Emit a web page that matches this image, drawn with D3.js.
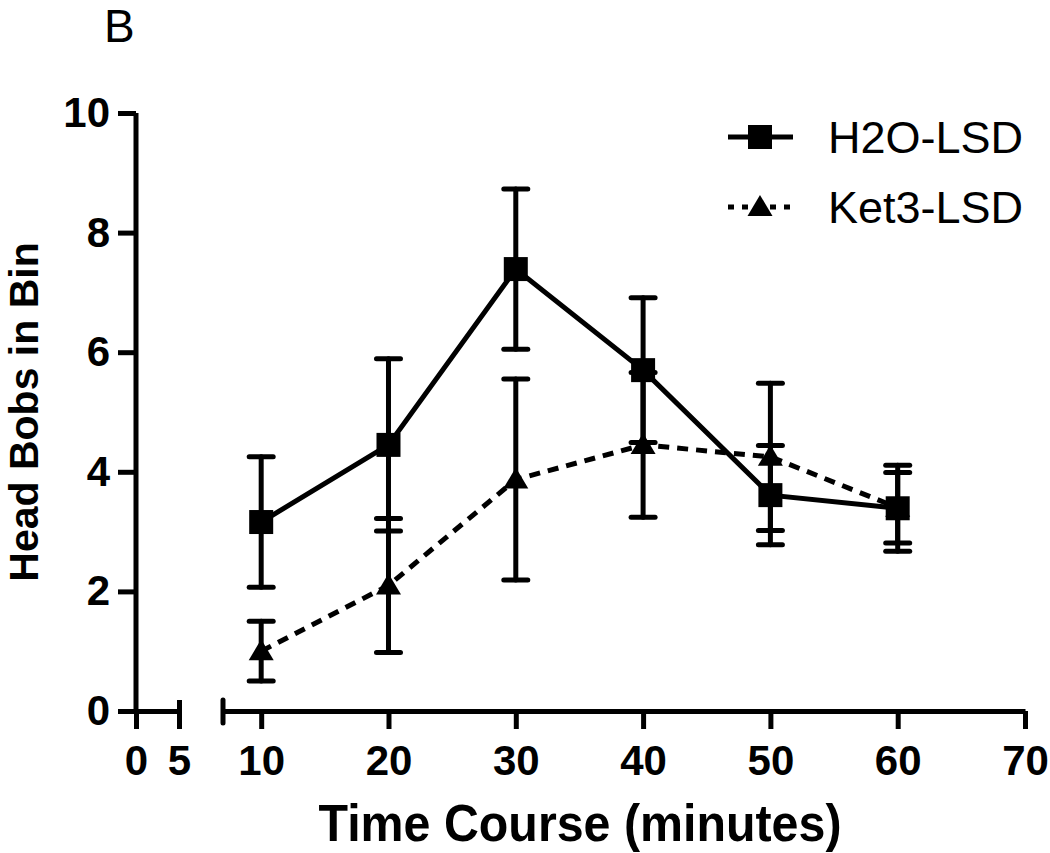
<!DOCTYPE html>
<html><head><meta charset="utf-8">
<script src="https://cdn.jsdelivr.net/npm/d3@7"></script>
<style>body{margin:0;background:#fff}svg{display:block}text{font-family:Arial,"Liberation Sans",sans-serif}</style>
</head><body><svg id="c" width="1050" height="853"></svg>
<script>
const times = [10, 20, 30, 40, 50, 60];
const h2oMean = [3.16, 4.45, 7.39, 5.70, 3.61, 3.39];
const h2oSem  = [1.09, 1.44, 1.34, 1.21, 0.83, 0.72];
const ketMean = [1.00, 2.10, 3.87, 4.45, 4.25, 3.40];
const ketSem  = [0.50, 1.12, 1.68, 1.21, 1.23, 0.59];
const yTicks = [0, 2, 4, 6, 8, 10];
const xTicks1 = [0, 5];
const xTicks2 = [10, 20, 30, 40, 50, 60, 70];
const seriesNames = ["H2O-LSD", "Ket3-LSD"];

const svg = d3.select("#c");
const y = d3.scaleLinear().domain([0, 10]).range([711, 113]);
const x1 = d3.scaleLinear().domain([0, 5]).range([136, 179]);
const x2 = d3.scaleLinear().domain([7, 70]).range([223, 1025]);
const SW = 5;
const fmt = d3.format("d");

// Y axis
const yAx = svg.append("g").attr("transform", "translate(136,0)")
  .call(d3.axisLeft(y).tickValues(yTicks).tickFormat(fmt).tickSize(18).tickPadding(8).tickSizeOuter(0));
yAx.select(".domain").attr("stroke-width", SW).attr("d", "M0," + y(10) + "V" + (y(0)+1.5));
yAx.selectAll(".tick line").attr("stroke-width", SW);
yAx.selectAll("text").attr("font-size", 42).attr("font-weight", "bold").attr("fill", "#000").attr("dy", "0.32em");

// X axis segment 1
const xa1 = svg.append("g").attr("transform", "translate(0,711)")
  .call(d3.axisBottom(x1).tickValues(xTicks1).tickFormat(fmt).tickSize(18).tickPadding(16).tickSizeOuter(0));
xa1.select(".domain").attr("stroke-width", SW);
xa1.selectAll(".tick line").attr("stroke-width", SW).attr("y1", -11);
xa1.selectAll(".tick").filter(d => d === 0).select("line").attr("y1", 0);
xa1.selectAll("text").attr("font-size", 42).attr("font-weight", "bold").attr("fill", "#000");

// X axis segment 2
const xa2 = svg.append("g").attr("transform", "translate(0,711)")
  .call(d3.axisBottom(x2).tickValues(xTicks2).tickFormat(fmt).tickSize(18).tickPadding(16).tickSizeOuter(0));
xa2.select(".domain").attr("stroke-width", SW);
xa2.selectAll(".tick line").attr("stroke-width", SW);
xa2.selectAll("text").attr("font-size", 42).attr("font-weight", "bold").attr("fill", "#000");
xa2.append("line").attr("x1", x2(7)).attr("x2", x2(7)).attr("y1", -11).attr("y2", 12)
  .attr("stroke", "#000").attr("stroke-width", SW).attr("stroke-linecap", "round");

// Series
const plot = svg.append("g");
const line = d3.line().x(d => x2(d[0])).y(d => y(d[1]));
const cap = 12;

function drawSeries(means, sems, dashed, marker) {
  const pts = times.map((t, i) => [t, means[i], sems[i]]);
  const eb = plot.append("g").attr("stroke", "#000").attr("stroke-width", SW).attr("stroke-linecap", "round");
  pts.forEach(p => {
    eb.append("line").attr("x1", x2(p[0])).attr("x2", x2(p[0])).attr("y1", y(p[1] - p[2])).attr("y2", y(p[1] + p[2]));
    [p[1] - p[2], p[1] + p[2]].forEach(v => {
      eb.append("line").attr("x1", x2(p[0]) - cap).attr("x2", x2(p[0]) + cap).attr("y1", y(v)).attr("y2", y(v));
    });
  });
  plot.append("path").datum(pts).attr("d", line).attr("fill", "none").attr("stroke", "#000")
    .attr("stroke-width", SW).attr("stroke-dasharray", dashed ? "11,8" : null);
  plot.selectAll(null).data(pts).enter().append("path")
    .attr("transform", d => `translate(${x2(d[0])},${y(d[1])})`)
    .attr("d", marker).attr("fill", "#000");
}
const sq = "M-12,-12H12V12H-12Z";
const tri = "M0,-12L12.5,9H-12.5Z";
drawSeries(h2oMean, h2oSem, false, sq);
drawSeries(ketMean, ketSem, true, tri);

// Legend
const leg = svg.append("g");
seriesNames.forEach((n, i) => {
  const yy = 137 + i * 70;
  leg.append("line").attr("x1", 728).attr("x2", 793).attr("y1", yy).attr("y2", yy)
    .attr("stroke", "#000").attr("stroke-width", SW).attr("stroke-dasharray", i ? "6,8" : null);
  leg.append("path").attr("transform", `translate(760,${yy})`).attr("d", i ? tri : sq).attr("fill", "#000");
  leg.append("text").attr("x", 828).attr("y", yy).attr("dy", "0.36em").attr("font-size", 45).text(n);
});

// Titles
svg.append("text").attr("x", 104).attr("y", 42).attr("font-size", 46).text("B");
svg.append("text").attr("transform", "translate(38,412) rotate(-90)").attr("text-anchor", "middle")
  .attr("font-size", 41).attr("font-weight", "bold").text("Head Bobs in Bin");
svg.append("text").attr("transform", "translate(580,841) scale(0.93,1)").attr("text-anchor", "middle")
  .attr("font-size", 52).attr("font-weight", "bold").text("Time Course (minutes)");
</script></body></html>
